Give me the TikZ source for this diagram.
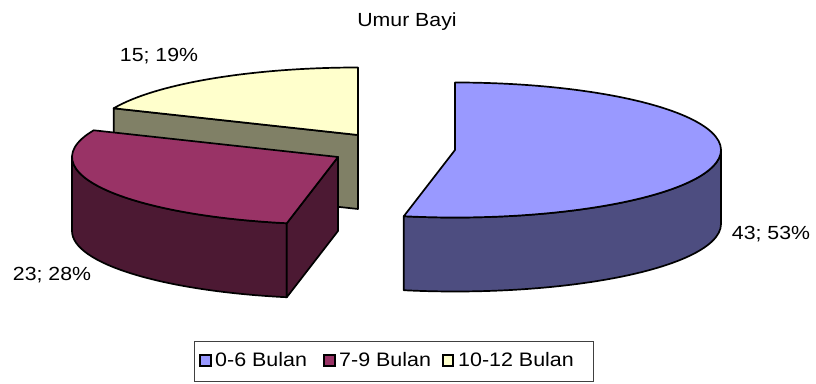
\documentclass[tikz,border=0pt]{standalone}
\usepackage{fontspec}
\usepackage{graphicx}
\setmainfont{Liberation Sans}
\definecolor{bluetop}{HTML}{9999FF}
\definecolor{blueside}{HTML}{4D4D80}
\definecolor{magtop}{HTML}{993366}
\definecolor{magside}{HTML}{4C1933}
\definecolor{yeltop}{HTML}{FFFFCC}
\definecolor{yelside}{HTML}{808066}
\newcommand{\wtxt}[1]{\scalebox{1.12}[1]{#1}}
\newcommand{\ltxt}[1]{\scalebox{1.1}[1]{#1}}
\tikzset{
  slice/.style={draw=black, line width=1.7pt, line join=round},
  lbl/.style={font=\fontsize{19}{22}\selectfont, inner sep=0pt, anchor=base},
  legtxt/.style={font=\fontsize{19.5}{22}\selectfont, inner sep=0pt, anchor=base west},
  legsq/.style={draw=black, line width=1.8pt, minimum width=10.5pt, minimum height=10.5pt, inner sep=0pt, outer sep=0pt},
}
\def\rx{266}
\def\ry{67.5}
\begin{document}
\begin{tikzpicture}[x=1pt,y=1pt]
\useasboundingbox (0,0) rectangle (816,383);
\fill[white] (0,0) rectangle (816,383);
\coordinate (Yc) at (358,248);
\coordinate (Mc) at (338,226);
\coordinate (Bc) at (455,233);
% yellow slice (10-12 Bulan)
\filldraw[slice, fill=yelside] (Yc) -- ([shift={(156.7:\rx pt and \ry pt)}]Yc) -- ++(0,-74) -- ([yshift=-74pt]Yc) -- cycle;
\filldraw[slice, fill=yeltop] (Yc) -- ([shift={(90:\rx pt and \ry pt)}]Yc) arc[start angle=90, end angle=156.7, x radius=\rx pt, y radius=\ry pt] -- cycle;
% magenta slice (7-9 Bulan)
\filldraw[slice, fill=magside] ([shift={(180:\rx pt and \ry pt)}]Mc) arc[start angle=180, end angle=258.9, x radius=\rx pt, y radius=\ry pt] -- ++(0,-74) arc[start angle=258.9, end angle=180, x radius=\rx pt, y radius=\ry pt] -- cycle;
\filldraw[slice, fill=magside] (Mc) -- ([shift={(258.9:\rx pt and \ry pt)}]Mc) -- ++(0,-74) -- ([yshift=-74pt]Mc) -- cycle;
\filldraw[slice, fill=magtop] (Mc) -- ([shift={(156.7:\rx pt and \ry pt)}]Mc) arc[start angle=156.7, end angle=258.9, x radius=\rx pt, y radius=\ry pt] -- cycle;
% blue slice (0-6 Bulan)
\filldraw[slice, fill=blueside] ([shift={(258.9:\rx pt and \ry pt)}]Bc) arc[start angle=258.9, end angle=360, x radius=\rx pt, y radius=\ry pt] -- ++(0,-74) arc[start angle=360, end angle=258.9, x radius=\rx pt, y radius=\ry pt] -- cycle;
\filldraw[slice, fill=bluetop] (Bc) -- ([shift={(258.9:\rx pt and \ry pt)}]Bc) arc[start angle=258.9, end angle=450, x radius=\rx pt, y radius=\ry pt] -- cycle;
% labels
\node[lbl] (title) at (407,356) {\wtxt{Umur Bayi}};
\node[lbl] (l15) at (159,321.5) {\wtxt{15; 19\%}};
\node[lbl] (l23) at (52,102.5) {\wtxt{23; 28\%}};
\node[lbl] (l43) at (771,143.5) {\wtxt{43; 53\%}};
% legend
\node[draw=black!75, line width=0.9pt, minimum width=399pt, minimum height=40pt, inner sep=0pt] (legend) at (393.5,22) {};
\node[legsq, fill=bluetop] (sq1) at (205.5,22.5) {};
\node[legtxt] (t1) at (215,16.5) {\ltxt{0-6 Bulan}};
\node[legsq, fill=magtop] (sq2) at (329.5,22.5) {};
\node[legtxt] (t2) at (339,16.5) {\ltxt{7-9 Bulan}};
\node[legsq, fill=yeltop] (sq3) at (448,22.5) {};
\node[legtxt] (t3) at (458,16.5) {\ltxt{10-12 Bulan}};
\end{tikzpicture}
\end{document}
